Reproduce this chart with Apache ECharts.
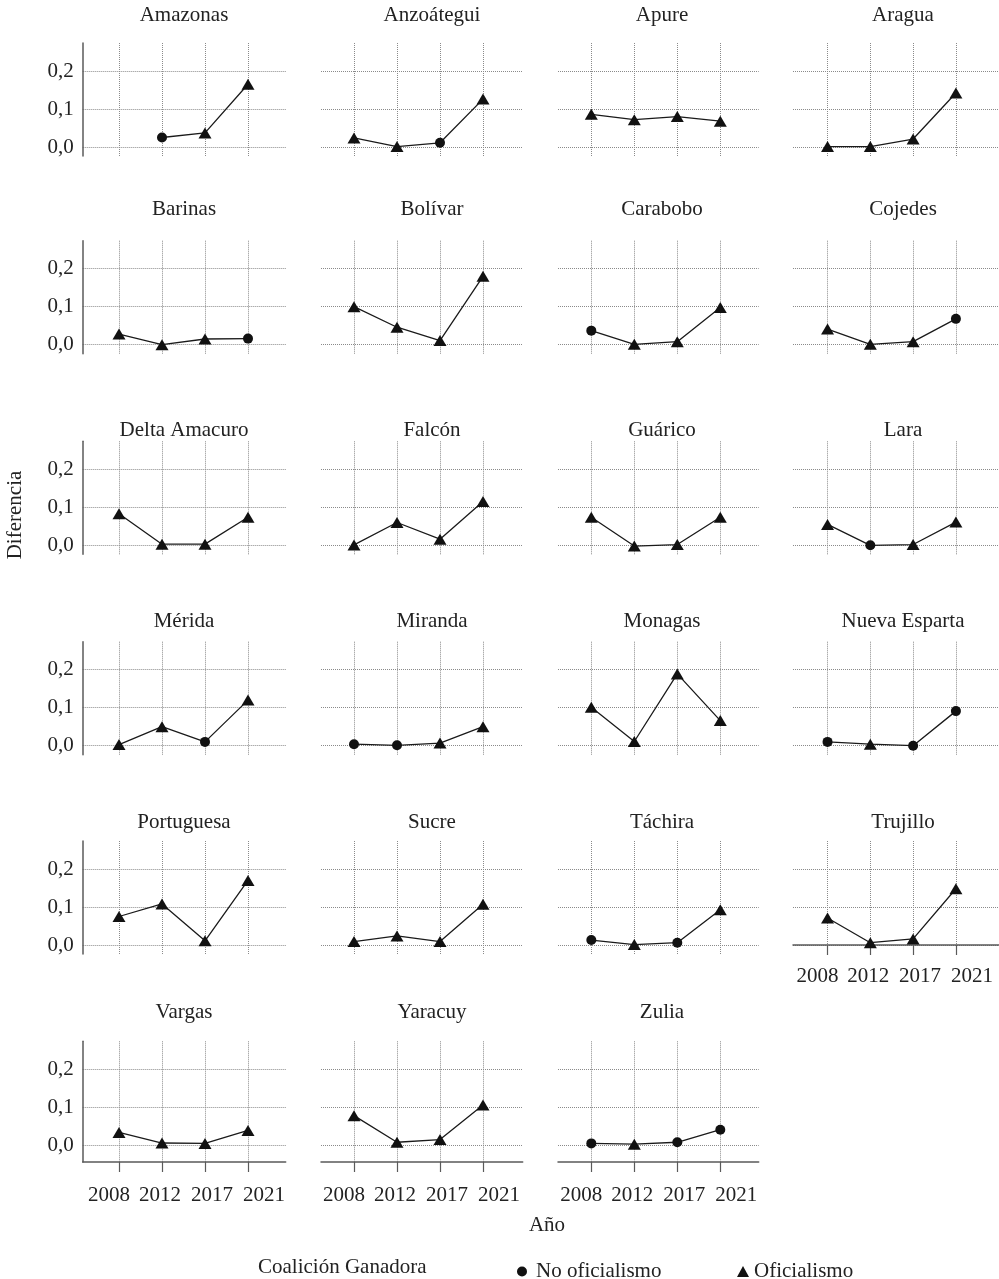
<!DOCTYPE html>
<html><head><meta charset="utf-8">
<script src="https://cdn.jsdelivr.net/npm/echarts@6/dist/echarts.min.js"></script>
<style>html,body{margin:0;padding:0;background:#fff}#c{width:999px;height:1279px}</style>
</head><body><div id="c"></div>
<script>
const states = ['Amazonas','Anzoátegui','Apure','Aragua','Barinas','Bolívar','Carabobo','Cojedes','Delta Amacuro','Falcón','Guárico','Lara','Mérida','Miranda','Monagas','Nueva Esparta','Portuguesa','Sucre','Táchira','Trujillo','Vargas','Yaracuy','Zulia'];
const years = ['2008','2012','2017','2021'];
const yTicks = [0, 0.1, 0.2];
// Diferencia por año (orden de states)
const diff2008 = [null,0.024,0.086,0.001,0.028,0.100,0.037,0.041,0.083,0.001,0.074,0.055,0.003,0.004,0.101,0.010,0.075,0.009,0.013,0.071,0.034,0.078,0.005];
const diff2012 = [0.025,0.001,0.072,0.001,0.000,0.046,0.001,0.001,0.003,0.060,-0.002,0.000,0.050,0.001,0.011,0.004,0.108,0.024,0.001,0.006,0.006,0.008,0.003];
const diff2017 = [0.037,0.011,0.080,0.021,0.015,0.011,0.008,0.008,0.003,0.016,0.002,0.002,0.010,0.007,0.189,0.000,0.011,0.009,0.006,0.016,0.005,0.015,0.008];
const diff2021 = [0.165,0.126,0.068,0.142,0.016,0.180,0.098,0.068,0.074,0.115,0.074,0.061,0.120,0.050,0.066,0.091,0.170,0.107,0.093,0.148,0.039,0.106,0.041];
// Coalición ganadora: 'N' = No oficialismo, 'O' = Oficialismo
const win2008 = ['','O','O','O','O','O','N','O','O','O','O','O','O','N','O','N','O','O','N','O','O','O','N'];
const win2012 = ['N','O','O','O','O','O','O','O','O','O','O','N','O','N','O','O','O','O','O','O','O','O','O'];
const win2017 = ['O','N','O','O','O','O','O','O','O','O','O','O','N','O','O','N','O','O','N','O','O','O','N'];
const win2021 = ['O','O','O','O','N','O','O','N','O','O','O','O','O','O','O','N','O','O','O','O','O','O','N'];
const legendNames = ['No oficialismo','Oficialismo'];

const diffs = [diff2008, diff2012, diff2017, diff2021];
const wins = [win2008, win2012, win2017, win2021];

// layout
const FONT = 'Liberation Serif';
const FS = 21;
const TXT = '#222';
const rowY0 = [147, 344.7, 545.3, 745.7, 945, 1145.3];
const rowTitleY = [15.7, 209, 430, 621, 822, 1012];
const colLeft = [82.7, 321, 558, 793];
const colFirst = [119, 354, 591.3, 827.7];
const colRight = [285.7, 522.7, 758.7, 1000];
const colTitleX = [184, 432, 662, 903];
const STEP = 43, PX = 380, TOP_PAD = 104;

// year label horizontal nudges (label spread as in the original)
const baseText = {fontFamily: FONT, fontSize: FS, color: TXT};
const yearRich = {
  y0: Object.assign({padding: [0, 20, 0, 0]}, baseText),
  y1: Object.assign({padding: [0, 4, 0, 0]}, baseText),
  y2: Object.assign({padding: [0, 0, 0, 14]}, baseText),
  y3: Object.assign({padding: [0, 0, 0, 32]}, baseText)
};

const grid = [], xAxis = [], yAxis = [], series = [], graphic = [];
const gridLine = {show: true, lineStyle: {color: '#8a8a8a', width: 1, type: 'dotted'}};
const axisCol = '#5a5a5a';

states.forEach((name, i) => {
  const row = Math.floor(i / 4), col = i % 4;
  const isTrujillo = i === 19;
  const hasX = i >= 19;
  const bottomPad = isTrujillo ? 0 : (row === 5 ? 16.7 : 9);
  const y0 = rowY0[row];
  grid.push({left: colLeft[col], top: y0 - TOP_PAD, width: colRight[col] - colLeft[col], height: TOP_PAD + bottomPad});
  xAxis.push({
    type: 'value', gridIndex: i,
    min: 1 - (colFirst[col] - colLeft[col]) / STEP,
    max: 4 + (colRight[col] - (colFirst[col] + 3 * STEP)) / STEP,
    axisLine: {show: hasX, onZero: false, lineStyle: {color: axisCol, width: 1.5}},
    axisTick: {show: hasX, customValues: [1, 2, 3, 4], length: 10, lineStyle: {color: axisCol, width: 1.2}},
    axisLabel: {show: hasX, customValues: [1, 2, 3, 4], margin: isTrujillo ? 21 : 23,
      color: TXT, fontFamily: FONT, fontSize: FS, rich: yearRich,
      formatter: v => { const k = Math.round(v) - 1; return '{y' + k + '|' + years[k] + '}'; }},
    splitLine: gridLine
  });
  yAxis.push({
    type: 'value', gridIndex: i,
    min: -bottomPad / PX, max: TOP_PAD / PX,
    axisLine: {show: col === 0, onZero: false, lineStyle: {color: axisCol, width: 1.5}},
    axisTick: {show: false, customValues: yTicks},
    axisLabel: {show: col === 0, customValues: yTicks, margin: 9, color: TXT, fontFamily: FONT, fontSize: FS,
      formatter: v => v.toFixed(1).replace('.', ',')},
    splitLine: gridLine
  });
  const pts = [];
  diffs.forEach((arr, k) => { if (arr[i] !== null) pts.push({x: k + 1, y: arr[i], w: wins[k][i]}); });
  series.push({
    name: name, type: 'line', xAxisIndex: i, yAxisIndex: i, silent: true,
    symbol: 'none', lineStyle: {color: '#1a1a1a', width: 1.3}, z: 2,
    data: pts.map(p => [p.x, p.y])
  });
  series.push({
    name: legendNames[0], type: 'scatter', xAxisIndex: i, yAxisIndex: i, silent: true,
    symbol: 'circle', symbolSize: 10, itemStyle: {color: '#111', opacity: 1}, z: 3,
    data: pts.filter(p => p.w === 'N').map(p => [p.x, p.y])
  });
  series.push({
    name: legendNames[1], type: 'scatter', xAxisIndex: i, yAxisIndex: i, silent: true,
    symbol: 'triangle', symbolSize: [13, 11], itemStyle: {color: '#111', opacity: 1}, z: 3,
    data: pts.filter(p => p.w === 'O').map(p => [p.x, p.y])
  });
  graphic.push({type: 'text', x: colTitleX[col], y: rowTitleY[row],
    style: {text: name, fontFamily: FONT, fontSize: FS, fill: TXT, align: 'center', verticalAlign: 'middle'}});
});

graphic.push({type: 'text', x: 15, y: 515, rotation: Math.PI / 2,
  style: {text: 'Diferencia', fontFamily: FONT, fontSize: FS, fill: TXT, align: 'center', verticalAlign: 'middle'}});
graphic.push({type: 'text', x: 547, y: 1225,
  style: {text: 'Año', fontFamily: FONT, fontSize: FS, fill: TXT, align: 'center', verticalAlign: 'middle'}});
graphic.push({type: 'text', x: 258, y: 1267,
  style: {text: 'Coalición Ganadora', fontFamily: FONT, fontSize: FS, fill: TXT, align: 'left', verticalAlign: 'middle'}});

const legendText = {color: TXT, fontFamily: FONT, fontSize: FS};
const option = {
  animation: false,
  backgroundColor: '#fff',
  grid, xAxis, yAxis, series, graphic,
  legend: [
    {data: [{name: legendNames[0], icon: 'circle'}], left: 512, top: 1256, itemWidth: 10, itemHeight: 10,
      selectedMode: false, itemStyle: {opacity: 1}, textStyle: Object.assign({padding: [0, 0, 0, 4]}, legendText)},
    {data: [{name: legendNames[1], icon: 'triangle'}], left: 732, top: 1256, itemWidth: 12, itemHeight: 11,
      selectedMode: false, itemStyle: {opacity: 1}, textStyle: Object.assign({padding: [0, 0, 0, 0]}, legendText)}
  ]
};
const chart = echarts.init(document.getElementById('c'), null, {renderer: 'canvas'});
chart.setOption(option);
</script></body></html>
